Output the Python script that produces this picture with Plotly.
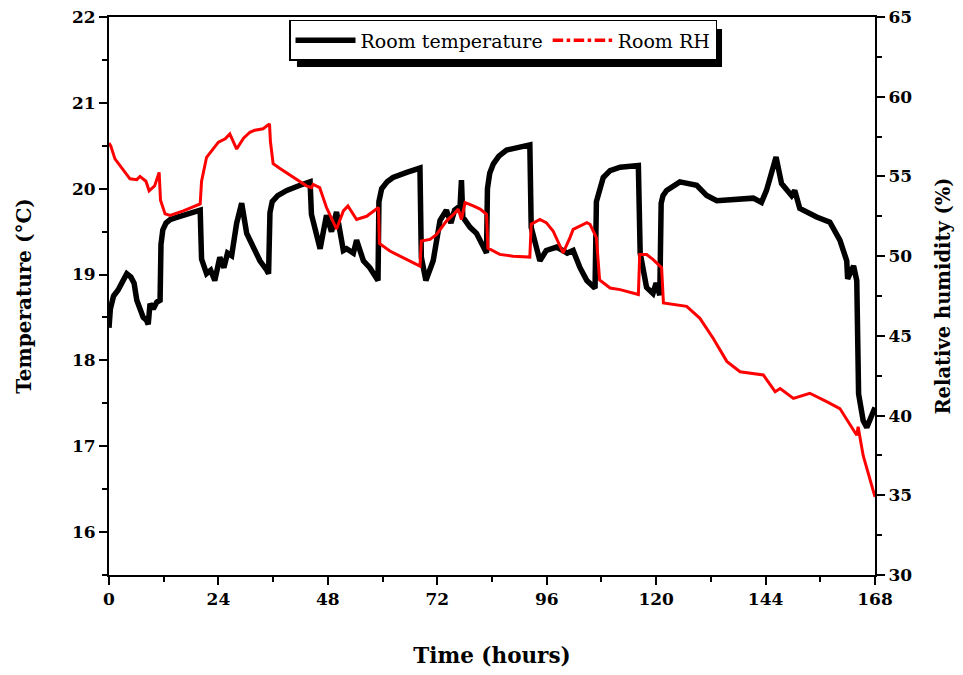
import plotly.graph_objects as go

# Room temperature (°C) vs time (hours)
temp_time = [0, 0.3, 1.0, 2.0, 3.0, 3.9, 4.8, 5.5, 6.1, 7.0, 7.5, 8.2, 8.6, 9.0, 9.7, 10.5, 11.2, 11.4, 11.8,
             12.5, 13.4, 14.5, 16.2, 18.0, 20.0, 20.3, 20.8, 21.4, 22.3, 23.2, 24.3, 25.2, 26.0, 26.9, 28.0,
             29.1, 30.2, 31.7, 33.1, 34.6, 35.0, 35.3, 35.8, 37.0, 39.0, 41.9, 44.1, 44.4, 45.5, 46.3, 47.7,
             48.8, 49.9, 50.6, 51.4, 52.1, 53.6, 54.3, 55.8, 57.2, 59.0, 59.2, 59.8, 61.0, 62.3, 65.3, 68.2,
             68.5, 69.5, 71.1, 72.6, 74.0, 75.0, 75.8, 77.0, 77.3, 77.6, 79.2, 80.6, 82.8, 83.0, 83.5, 84.3,
             85.5, 87.2, 92.3, 92.6, 94.5, 95.9, 98.2, 100.5, 101.8, 103.3, 104.8, 106.6, 106.9, 107.7, 108.4,
             109.9, 112.1, 116.1, 116.5, 117.9, 119.3, 120.0, 120.8, 121.1, 121.5, 122.3, 125.2, 128.9, 131.1,
             133.3, 136.1, 141.3, 143.1, 144.2, 146.3, 147.5, 149.7, 150.4, 151.5, 155.2, 158.1, 160.3, 161.8,
             162.0, 163.3, 164.0, 164.4, 165.4, 166.2, 167.6, 168]
temp_vals = [18.38, 18.6, 18.75, 18.82, 18.92, 19.01, 18.97, 18.9, 18.70, 18.58, 18.50, 18.47, 18.42, 18.66,
             18.60, 18.68, 18.70, 19.35, 19.52, 19.60, 19.64, 19.66, 19.69, 19.72, 19.75, 19.18, 19.08, 19.01,
             19.05, 18.93, 19.20, 19.08, 19.25, 19.22, 19.60, 19.83, 19.48, 19.30, 19.16, 19.05, 19.01, 19.72,
             19.85, 19.92, 19.98, 20.04, 20.08, 19.70, 19.48, 19.30, 19.69, 19.50, 19.73, 19.48, 19.28, 19.30,
             19.25, 19.40, 19.16, 19.08, 18.93, 19.85, 20.0, 20.08, 20.13, 20.19, 20.24, 19.2, 18.93, 19.16,
             19.63, 19.75, 19.60, 19.75, 19.80, 20.10, 19.67, 19.55, 19.48, 19.25, 20.0, 20.18, 20.29, 20.38,
             20.45, 20.51, 19.55, 19.16, 19.28, 19.32, 19.25, 19.28, 19.08, 18.93, 18.84, 19.85, 20.02, 20.13,
             20.21, 20.25, 20.27, 19.25, 18.85, 18.78, 18.90, 18.76, 19.83, 19.92, 19.98, 20.08, 20.04, 19.92,
             19.86, 19.87, 19.89, 19.84, 19.98, 20.37, 20.06, 19.92, 19.98, 19.77, 19.67, 19.61, 19.40, 19.16,
             18.95, 19.10, 18.93, 17.61, 17.30, 17.22, 17.38, 17.45]

# Room relative humidity (%) vs time (hours)
rh_time = [0, 0.4, 1.3, 2.8, 4.6, 6.1, 6.8, 8.1, 8.8, 10.0, 11.0, 11.3, 12.3, 13.4, 16.3, 20.0, 20.3, 21.4,
           23.2, 24.0, 25.5, 26.5, 28.0, 29.5, 30.9, 32.0, 33.8, 35.2, 35.4, 36.0, 37.5, 40.4, 43.3, 44.4, 44.8,
           46.2, 47.7, 49.1, 49.9, 51.4, 52.4, 54.3, 56.5, 59.1, 59.3, 61.6, 65.3, 68.2, 68.5, 70.4, 71.8, 74.0,
           75.5, 76.6, 77.3, 78.1, 79.9, 81.4, 82.8, 83.1, 85.7, 88.6, 92.3, 92.6, 94.5, 95.9, 97.4, 99.6, 101.1,
           101.8, 104.8, 105.5, 106.9, 107.6, 109.9, 112.1, 116.1, 116.4, 117.9, 119.3, 121.2, 121.6, 126.7,
           129.6, 132.5, 135.5, 138.4, 143.5, 146.1, 147.2, 150.1, 153.7, 157.4, 160.3, 164.0, 164.3, 165.4,
           167.6, 168]
rh_vals = [57.1, 56.9, 56.1, 55.5, 54.85, 54.8, 55.0, 54.7, 54.1, 54.4, 55.25, 53.5, 52.65, 52.55, 52.84,
           53.28, 54.7, 56.2, 56.83, 57.15, 57.36, 57.67, 56.72, 57.4, 57.77, 57.9, 57.99, 58.3, 57.2, 55.8,
           55.5, 54.94, 54.41, 54.3, 54.5, 54.3, 53.05, 52.2, 51.7, 52.84, 53.15, 52.3, 52.5, 53.05, 50.8, 50.32,
           49.8, 49.37, 50.95, 51.05, 51.35, 52.2, 52.6, 52.95, 52.3, 53.36, 53.15, 52.95, 52.63, 50.5, 50.11,
           50.0, 49.94, 52.0, 52.3, 52.1, 51.58, 50.2, 51.16, 51.68, 52.1, 52.0, 51.16, 48.5, 48.0, 47.9, 47.59,
           50.1, 50.1, 49.8, 49.27, 47.06, 46.85, 46.1, 44.85, 43.4, 42.75, 42.55, 41.5, 41.7, 41.08, 41.4,
           40.87, 40.44, 38.77, 39.3, 37.5, 35.2, 34.9]

x_ticks = [0, 24, 48, 72, 96, 120, 144, 168]
temp_ticks = [16, 17, 18, 19, 20, 21, 22]
rh_ticks = [30, 35, 40, 45, 50, 55, 60, 65]

SERIF = "DejaVu Serif"
tick_font = dict(family=SERIF, size=17, color="black", weight="bold")

fig = go.Figure()
fig.add_trace(go.Scatter(x=temp_time, y=temp_vals, mode="lines", name="Room temperature",
                         line=dict(color="black", width=5.5), yaxis="y"))
fig.add_trace(go.Scatter(x=rh_time, y=rh_vals, mode="lines", name="Room RH", showlegend=False,
                         line=dict(color="red", width=3), yaxis="y2"))
# legend sample for RH (dash-dot style as in the original legend)
fig.add_trace(go.Scatter(x=[None], y=[None], mode="lines", name="Room RH",
                         line=dict(color="red", width=3.5, dash="dashdot"), yaxis="y2"))

axis_common = dict(showline=True, linecolor="black", linewidth=2, ticks="outside", ticklen=8,
                   tickwidth=2, tickcolor="black", showgrid=False, zeroline=False, tickfont=tick_font,
                   automargin=False, ticklabeloverflow="allow")

# page body adds an 8px offset, so the figure is sized to fit the 963x675 window
fig.update_layout(
    width=955, height=667,
    margin=dict(l=101, r=88, t=9, b=100),
    paper_bgcolor="white", plot_bgcolor="white",
    xaxis=dict(range=[0, 168], tickvals=x_ticks, mirror=True,
               minor=dict(dtick=12, tick0=0, ticks="outside", ticklen=5, tickwidth=2, tickcolor="black"),
               title=dict(text="Time (hours)",
                          font=dict(family=SERIF, size=21.5, color="black", weight="bold"), standoff=40),
               **axis_common),
    # top frame ticks (pointing inward, no labels)
    xaxis2=dict(range=[0, 168], tickvals=x_ticks, overlaying="x", side="top", anchor="y",
                ticks="inside", ticklen=6, tickwidth=1.5, tickcolor="black", showticklabels=False,
                minor=dict(dtick=12, tick0=0, ticks="inside", ticklen=4, tickwidth=1.5, tickcolor="black"),
                showline=False, showgrid=False, zeroline=False, automargin=False),
    yaxis=dict(range=[15.5, 22], tickvals=temp_ticks,
               minor=dict(dtick=0.5, tick0=0, ticks="outside", ticklen=5, tickwidth=2, tickcolor="black"),
               title=dict(text="Temperature (°C)",
                          font=dict(family=SERIF, size=20, color="black", weight="bold"), standoff=35),
               **axis_common),
    yaxis2=dict(range=[30, 65], tickvals=rh_ticks, overlaying="y", side="right",
                minor=dict(dtick=2.5, tick0=0, ticks="outside", ticklen=5, tickwidth=2, tickcolor="black"),
                title=dict(text="Relative humidity (%)",
                           font=dict(family=SERIF, size=19.5, color="black", weight="bold"), standoff=25),
                **axis_common),
    legend=dict(orientation="h", x=0.235, y=0.995, xanchor="left", yanchor="top",
                bgcolor="white", bordercolor="black", borderwidth=1.5,
                font=dict(family=SERIF, size=19, color="black"), itemwidth=60,
                tracegroupgap=0),
    showlegend=True,
)

# legend drop shadow
fig.add_shape(type="rect", xref="paper", yref="paper", x0=0.2454, x1=0.8003, y0=0.9104, y1=0.9785,
              fillcolor="black", line=dict(width=0), layer="above")

fig.write_html("out.html")
